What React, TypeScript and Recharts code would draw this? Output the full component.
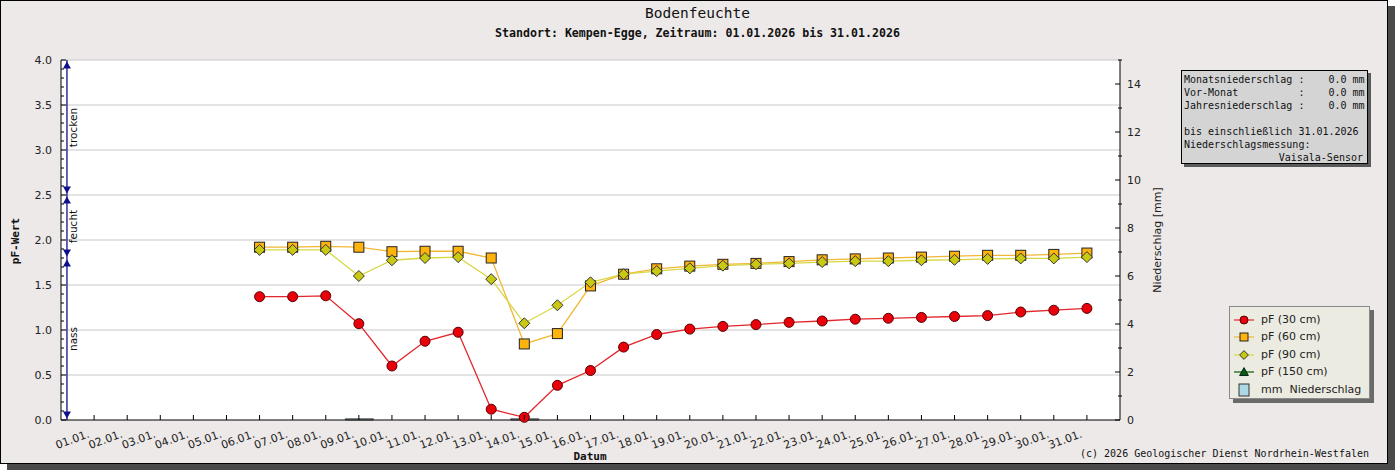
import React from 'react';
import { ComposedChart, Line, Bar, XAxis, YAxis, ReferenceLine, ReferenceDot, CartesianGrid } from 'recharts';

const dayLabels = [
  '01.01.', '02.01.', '03.01.', '04.01.', '05.01.', '06.01.', '07.01.', '08.01.', '09.01.', '10.01.',
  '11.01.', '12.01.', '13.01.', '14.01.', '15.01.', '16.01.', '17.01.', '18.01.', '19.01.', '20.01.',
  '21.01.', '22.01.', '23.01.', '24.01.', '25.01.', '26.01.', '27.01.', '28.01.', '29.01.', '30.01.', '31.01.',
];

const pf30 = [
  null, null, null, null, null, 1.37, 1.37, 1.38, 1.07, 0.6,
  0.875, 0.975, 0.12, 0.03, 0.385, 0.55, 0.81, 0.95, 1.01, 1.04,
  1.06, 1.085, 1.1, 1.12, 1.13, 1.14, 1.15, 1.16, 1.2, 1.22, 1.24,
];
const pf60 = [
  null, null, null, null, null, 1.92, 1.92, 1.93, 1.92, 1.87,
  1.875, 1.875, 1.8, 0.845, 0.96, 1.49, 1.62, 1.68, 1.71, 1.73,
  1.74, 1.76, 1.78, 1.79, 1.8, 1.81, 1.82, 1.83, 1.83, 1.84, 1.855,
];
const pf90 = [
  null, null, null, null, null, 1.89, 1.89, 1.89, 1.6, 1.775,
  1.8, 1.81, 1.565, 1.075, 1.275, 1.53, 1.62, 1.655, 1.685, 1.715,
  1.73, 1.74, 1.755, 1.765, 1.765, 1.775, 1.78, 1.79, 1.795, 1.795, 1.81,
];
const pf150: (number | null)[] = dayLabels.map(() => null);
const rain = [
  null, null, null, null, null, null, null, null, 0.05, null,
  null, null, null, 0.05, null, null, null, null, null, null,
  null, null, null, null, null, null, null, null, null, null, null,
];

const pfMajorTicks = [0, 0.5, 1, 1.5, 2, 2.5, 3, 3.5, 4];
const pfTicks = Array.from({ length: 41 }, (_, i) => i / 10);
const mmTicks = Array.from({ length: 16 }, (_, i) => i);

const zones = [
  { name: 'trocken', from: 2.5, to: 4.0 },
  { name: 'feucht', from: 1.8, to: 2.5 },
  { name: 'nass', from: 0, to: 1.8 },
];

const infoLines = [
  'Monatsniederschlag :    0.0 mm',
  'Vor-Monat          :    0.0 mm',
  'Jahresniederschlag :    0.0 mm',
  '',
  'bis einschließlich 31.01.2026',
  'Niederschlagsmessung:',
];

const series = [
  { key: 'pf30', name: 'pF (30 cm)', color: '#e2262c', marker: 'circle' },
  { key: 'pf60', name: 'pF (60 cm)', color: '#f2b735', marker: 'square' },
  { key: 'pf90', name: 'pF (90 cm)', color: '#d8d845', marker: 'diamond' },
  { key: 'pf150', name: 'pF (150 cm)', color: '#0a5a0a', marker: 'triangle' },
];

const data = dayLabels.map((label, i) => ({
  day: i + 1,
  label,
  pf30: pf30[i],
  pf60: pf60[i],
  pf90: pf90[i],
  pf150: pf150[i],
  rain: rain[i],
}));

const MONO = '"DejaVu Sans Mono", monospace';
const SANS = '"DejaVu Sans", sans-serif';
const ZONE_X = 0.18;

function Marker({ kind, cx, cy, s = 1 }: { kind: string; cx: number; cy: number; s?: number }) {
  if (kind === 'circle') return <circle cx={cx} cy={cy} r={5 * s} fill="#e8000b" stroke="#5a0000" strokeWidth={1} />;
  if (kind === 'square')
    return <rect x={cx - 5 * s} y={cy - 5 * s} width={10 * s} height={10 * s} fill="#ffb30f" stroke="#222" strokeWidth={1} />;
  if (kind === 'diamond') {
    const d = 5.5 * s;
    return <polygon points={`${cx},${cy - d} ${cx + d},${cy} ${cx},${cy + d} ${cx - d},${cy}`} fill="#c9c914" stroke="#333" strokeWidth={1} />;
  }
  const d = 5.5 * s;
  return <polygon points={`${cx},${cy - d} ${cx + d},${cy + d * 0.8} ${cx - d},${cy + d * 0.8}`} fill="#0a5c0a" stroke="#022" strokeWidth={1} />;
}

const dotFor = (kind: string) => (p: any) => {
  if (p.value == null || p.cy == null || Number.isNaN(p.cy)) return <g key={`e${p.index}`} />;
  return <Marker key={`m${p.index}`} kind={kind} cx={p.cx} cy={p.cy} />;
};

const LeftTick = ({ x, y, payload }: any) => {
  const v = payload.value;
  const major = Math.abs(v * 2 - Math.round(v * 2)) < 1e-6;
  return (
    <g>
      <line x1={x} x2={x + (major ? 5 : 3)} y1={y} y2={y} stroke="#000" />
      {major && (
        <text x={x - 9} y={y} dy={4} textAnchor="end" fontSize={11} fill="#222" fontFamily={SANS}>
          {v.toFixed(1)}
        </text>
      )}
    </g>
  );
};

const RightTick = ({ x, y, payload }: any) => {
  const v = payload.value;
  const major = v % 2 === 0;
  return (
    <g>
      <line x1={x - (major ? 5 : 2)} x2={x + (major ? 0 : 2)} y1={y} y2={y} stroke="#000" />
      {major && (
        <text x={x + 7} y={y} dy={4} textAnchor="start" fontSize={11} fill="#222" fontFamily={SANS}>
          {v}
        </text>
      )}
    </g>
  );
};

const XTick = ({ x, y, payload }: any) => (
  <g>
    <line x1={x} x2={x} y1={y} y2={y - 5} stroke="#000" />
    <text
      x={x - 4}
      y={y + 17}
      textAnchor="end"
      fontSize={11}
      fill="#222"
      fontFamily={SANS}
      transform={`rotate(-20 ${x - 4} ${y + 17})`}
    >
      {dayLabels[payload.value - 1]}
    </text>
  </g>
);

const arrow = (dir: 'up' | 'down') => (p: any) => {
  const { cx, cy } = p;
  if (dir === 'up') {
    const t = cy + 1.5;
    return <polygon points={`${cx},${t} ${cx + 4},${t + 7} ${cx - 4},${t + 7}`} fill="#10108a" />;
  }
  const t = cy - 1.5;
  return <polygon points={`${cx},${t} ${cx + 4},${t - 7} ${cx - 4},${t - 7}`} fill="#10108a" />;
};

const zoneLabel = (name: string) => (p: any) => (
  <text
    x={p.cx + 6}
    y={p.cy}
    dy={4}
    textAnchor="middle"
    fontSize={10.5}
    fill="#111"
    fontFamily={SANS}
    transform={`rotate(-90 ${p.cx + 6} ${p.cy})`}
  >
    {name}
  </text>
);

function LegendBox() {
  const rows = [...series.map((s) => ({ name: s.name, color: s.color, marker: s.marker })), { name: 'mm  Niederschlag', color: '', marker: 'bar' }];
  return (
    <div
      style={{
        position: 'absolute',
        left: 1229,
        top: 306,
        width: 139,
        height: 91,
        background: '#ecebe1',
        border: '1px solid #8a8a8a',
        boxShadow: '4px 4px 0 #6a6a6a',
        fontFamily: SANS,
        fontSize: 11,
        color: '#222',
      }}
    >
      {rows.map((r, i) => (
        <div key={r.name} style={{ position: 'absolute', left: 0, top: 5 + i * 17.4, height: 16, width: 139 }}>
          <svg width={26} height={16} style={{ position: 'absolute', left: 2, top: 0 }}>
            {r.marker === 'bar' ? (
              <rect x={7} y={2} width={10} height={12} fill="#add8e6" stroke="#333" />
            ) : (
              <>
                <line x1={2} x2={22} y1={8} y2={8} stroke={r.color} strokeWidth={1.2} />
                <Marker kind={r.marker} cx={12} cy={8} s={0.8} />
              </>
            )}
          </svg>
          <span style={{ position: 'absolute', left: 31, top: 1, whiteSpace: 'pre' }}>{r.name}</span>
        </div>
      ))}
    </div>
  );
}

export default function App() {
  return (
    <div style={{ position: 'absolute', left: 0, top: 0, width: 1395, height: 470 }}>
      <div
        style={{
          position: 'absolute',
          left: 0,
          top: 0,
          width: 1386,
          height: 462,
          background: '#ece9e8',
          border: '1px solid #000',
          boxShadow: '7px 6px 0 #4a4a4a',
        }}
      />
      <div style={{ position: 'absolute', left: 0, top: 0 }}>
        <ComposedChart width={1395} height={470} data={data} margin={{ top: 60, right: 235, bottom: 0, left: 0 }}>
          <CartesianGrid horizontal={false} vertical={false} fill="#ffffff" yAxisId="pf" />
          <XAxis
            dataKey="day"
            type="number"
            domain={[0, 32]}
            ticks={data.map((d) => d.day)}
            interval={0}
            height={50}
            tickSize={0}
            tickMargin={0}
            tickLine={false}
            tick={<XTick />}
            axisLine={{ stroke: '#000' }}
          />
          <YAxis
            yAxisId="pf"
            orientation="left"
            domain={[0, 4]}
            ticks={pfTicks}
            interval={0}
            width={61}
            tickSize={0}
            tickMargin={0}
            tickLine={false}
            tick={<LeftTick />}
            axisLine={{ stroke: '#000' }}
          />
          <YAxis
            yAxisId="mm"
            orientation="right"
            domain={[0, 15]}
            ticks={mmTicks}
            interval={0}
            width={40}
            tickSize={0}
            tickMargin={0}
            tickLine={false}
            tick={<RightTick />}
            axisLine={{ stroke: '#000' }}
          />
          {pfMajorTicks
            .filter((v) => v > 0)
            .map((v) => (
              <ReferenceLine key={`g${v}`} yAxisId="pf" y={v} stroke="#c8c8c8" strokeWidth={1} />
            ))}
          <Bar yAxisId="mm" dataKey="rain" barSize={28} fill="#add8e6" stroke="#555" strokeWidth={1} isAnimationActive={false} />
          {series.map((s) => (
            <Line
              key={s.key}
              yAxisId="pf"
              type="linear"
              dataKey={s.key}
              name={s.name}
              stroke={s.color}
              strokeWidth={1.3}
              dot={dotFor(s.marker)}
              activeDot={false}
              connectNulls={false}
              isAnimationActive={false}
            />
          ))}
          <ReferenceLine
            yAxisId="pf"
            segment={[
              { x: ZONE_X, y: 0 },
              { x: ZONE_X, y: 4 },
            ]}
            stroke="#10108a"
            strokeWidth={1.3}
          />
          {zones.map((z) => (
            <React.Fragment key={z.name}>
              <ReferenceDot yAxisId="pf" x={ZONE_X} y={z.to} r={0} shape={arrow('up')} />
              <ReferenceDot yAxisId="pf" x={ZONE_X} y={z.from} r={0} shape={arrow('down')} />
              <ReferenceDot yAxisId="pf" x={ZONE_X} y={(z.from + z.to) / 2} r={0} shape={zoneLabel(z.name)} />
            </React.Fragment>
          ))}
        </ComposedChart>
      </div>

      <div style={{ position: 'absolute', left: 0, width: 1395, top: 5, textAlign: 'center', fontFamily: MONO, fontSize: 14.5, color: '#111' }}>
        Bodenfeuchte
      </div>
      <div
        style={{ position: 'absolute', left: 0, width: 1395, top: 26, textAlign: 'center', fontFamily: MONO, fontSize: 11.6, fontWeight: 'bold', color: '#111' }}
      >
        Standort: Kempen-Egge, Zeitraum: 01.01.2026 bis 31.01.2026
      </div>
      <div
        style={{
          position: 'absolute',
          left: 15,
          top: 241,
          transform: 'translate(-50%, -50%) rotate(-90deg)',
          fontFamily: MONO,
          fontSize: 11,
          fontWeight: 'bold',
          whiteSpace: 'nowrap',
          color: '#111',
        }}
      >
        pF-Wert
      </div>
      <div
        style={{
          position: 'absolute',
          left: 1157,
          top: 240,
          transform: 'translate(-50%, -50%) rotate(-90deg)',
          fontFamily: SANS,
          fontSize: 11,
          whiteSpace: 'nowrap',
          color: '#222',
        }}
      >
        Niederschlag [mm]
      </div>
      <div style={{ position: 'absolute', left: 560, width: 60, top: 450, textAlign: 'center', fontFamily: MONO, fontSize: 11, fontWeight: 'bold', color: '#111' }}>
        Datum
      </div>
      <div style={{ position: 'absolute', left: 1080, top: 448, fontFamily: MONO, fontSize: 10, color: '#111', whiteSpace: 'pre' }}>
        (c) 2026 Geologischer Dienst Nordrhein-Westfalen
      </div>

      <div
        style={{
          position: 'absolute',
          left: 1181,
          top: 70,
          width: 185,
          height: 92,
          background: '#d4d4d4',
          border: '1px solid #000',
          boxShadow: '3px 3px 0 #5a5a5a',
          fontFamily: MONO,
          fontSize: 10,
          lineHeight: '13px',
          color: '#111',
        }}
      >
        <div style={{ padding: '2px 0 0 2px', whiteSpace: 'pre' }}>
          {infoLines.map((l, i) => (
            <div key={i} style={{ height: 13 }}>
              {l}
            </div>
          ))}
          <div style={{ height: 13, textAlign: 'right', paddingRight: 4 }}>Vaisala-Sensor</div>
        </div>
      </div>

      <LegendBox />
    </div>
  );
}
